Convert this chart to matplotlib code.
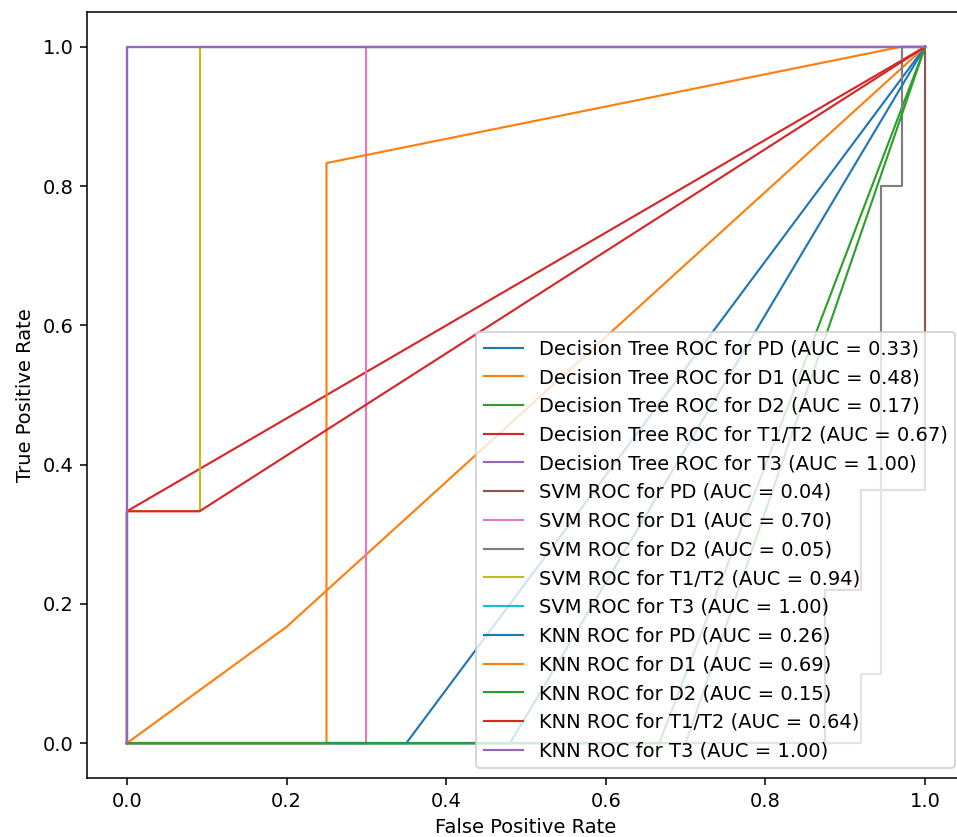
import matplotlib
matplotlib.use("Agg")
import matplotlib.pyplot as plt

# --- data ---
models = ["Decision Tree", "SVM", "KNN"]
classes = ["PD", "D1", "D2", "T1/T2", "T3"]

dt_auc = [0.33, 0.48, 0.17, 0.67, 1.00]
svm_auc = [0.04, 0.70, 0.05, 0.94, 1.00]
knn_auc = [0.26, 0.69, 0.15, 0.64, 1.00]

dt_fpr = [
    [0, 0.35, 1],
    [0, 0.2, 1],
    [0, 0.667, 1],
    [0, 0, 1],
    [0, 0, 1],
]
dt_tpr = [
    [0, 0, 1],
    [0, 0.167, 1],
    [0, 0, 1],
    [0, 0.333, 1],
    [0, 1, 1],
]

svm_fpr = [
    [0, 0.874, 0.874, 0.92, 0.92, 1, 1],
    [0, 0.3, 0.3, 1],
    [0, 0.92, 0.92, 0.945, 0.945, 0.971, 0.971, 1],
    [0, 0, 0.091, 0.091, 1],
    [0, 0, 1],
]
svm_tpr = [
    [0, 0, 0.22, 0.22, 0.363, 0.363, 1],
    [0, 0, 1, 1],
    [0, 0, 0.1, 0.1, 0.8, 0.8, 1, 1],
    [0, 0.333, 0.333, 1, 1],
    [0, 1, 1],
]

knn_fpr = [
    [0, 0.48, 1],
    [0, 0.25, 0.25, 0.97, 1],
    [0, 0.70, 1],
    [0, 0, 0.091, 1],
    [0, 0, 1],
]
knn_tpr = [
    [0, 0, 1],
    [0, 0, 0.833, 1, 1],
    [0, 0, 1],
    [0, 0.333, 0.333, 1],
    [0, 1, 1],
]

all_fpr = [dt_fpr, svm_fpr, knn_fpr]
all_tpr = [dt_tpr, svm_tpr, knn_tpr]
all_auc = [dt_auc, svm_auc, knn_auc]

# --- figure (original looks cropped: right spine sits just past the edge) ---
DPI = 140
fig = plt.figure(figsize=(957 / DPI, 837 / DPI), dpi=DPI)
ax = fig.add_axes([0.0909, 0.0705, 0.9175, 0.9152])

for model, fprs, tprs, aucs in zip(models, all_fpr, all_tpr, all_auc):
    for cls, fpr, tpr, auc in zip(classes, fprs, tprs, aucs):
        ax.plot(fpr, tpr, lw=1.1, label=f"{model} ROC for {cls} (AUC = {auc:.2f})")

ax.set_xlabel("False Positive Rate")
ax.set_ylabel("True Positive Rate")
ax.legend(loc="lower right")

fig.savefig("out.png", dpi=DPI)
